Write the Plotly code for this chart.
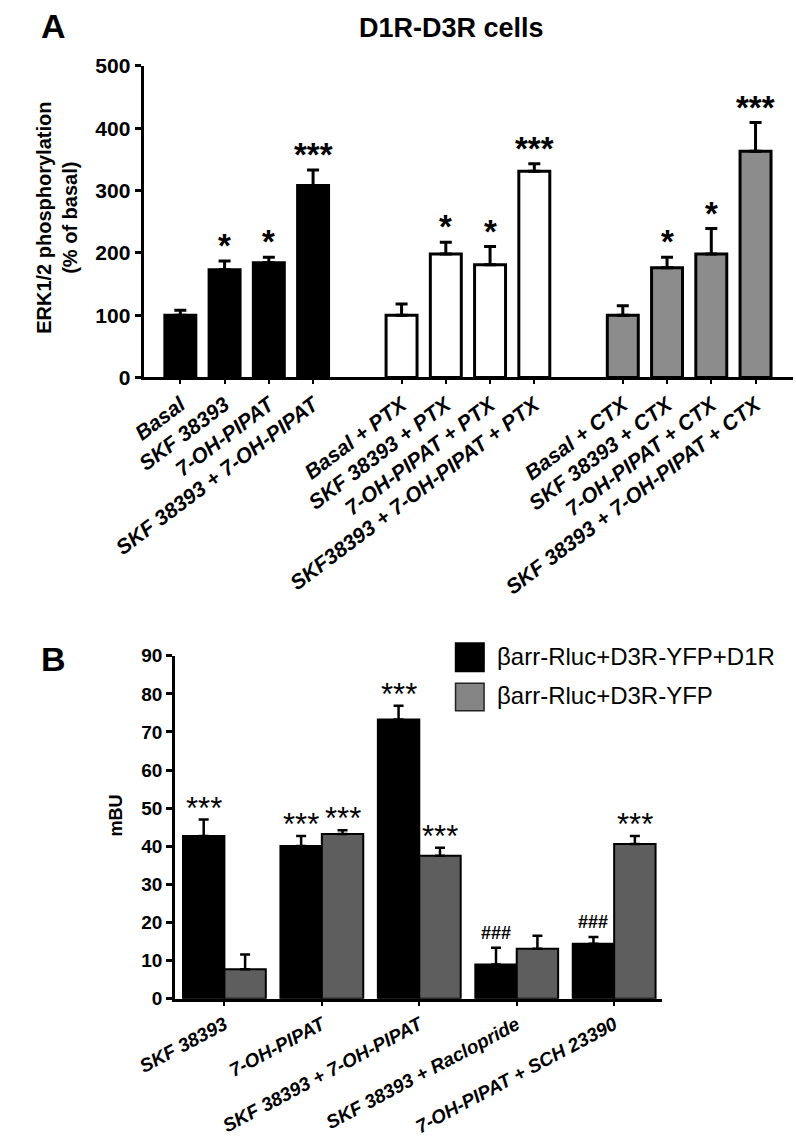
import plotly.graph_objects as go

FONT = "Arial, Liberation Sans, sans-serif"

# ---------------- Panel A data ----------------
title_A = "D1R-D3R cells"
labels_A = [
    "Basal", "SKF 38393", "7-OH-PIPAT", "SKF 38393 + 7-OH-PIPAT",
    "Basal + PTX", "SKF 38393 + PTX", "7-OH-PIPAT + PTX", "SKF38393 + 7-OH-PIPAT + PTX",
    "Basal + CTX", "SKF 38393 + CTX", "7-OH-PIPAT + CTX", "SKF 38393 + 7-OH-PIPAT + CTX",
]
group_of_A = [0, 0, 0, 0, 1, 1, 1, 1, 2, 2, 2, 2]
values_A = [100, 173, 184, 308, 100, 198, 181, 331, 100, 176, 198, 363]
errors_A = [8, 14, 9, 25, 18, 19, 29, 12, 15, 17, 41, 46]
signif_A = ["", "*", "*", "***", "", "*", "*", "***", "", "*", "*", "***"]
group_colors_A = ["#000000", "#ffffff", "#8c8c8c"]
yticks_A = [0, 100, 200, 300, 400, 500]

# ---------------- Panel B data ----------------
categories_B = ["SKF 38393", "7-OH-PIPAT", "SKF 38393 + 7-OH-PIPAT",
                "SKF 38393 + Raclopride", "7-OH-PIPAT + SCH 23390"]
name_D1R = "\u03b2arr-Rluc+D3R-YFP+D1R"
name_noD1R = "\u03b2arr-Rluc+D3R-YFP"
values_D1R = [42.7, 40.1, 73.3, 9.0, 14.4]
errors_D1R = [4.3, 2.6, 3.6, 4.4, 1.8]
values_noD1R = [7.7, 43.2, 37.5, 13.1, 40.6]
errors_noD1R = [3.9, 1.0, 2.1, 3.4, 2.1]
signif_D1R = ["***", "***", "***", "###", "###"]
signif_noD1R = ["", "***", "***", "", "***"]
yticks_B = list(range(0, 100, 10))

# x positions for panel A: one empty slot between groups
pos_A = []
slot = {}
for i, g in enumerate(group_of_A):
    slot[g] = slot.get(g, 0)
    pos_A.append(g * 5 + slot[g])
    slot[g] += 1
colors_A = [group_colors_A[g] for g in group_of_A]

fig = go.Figure()

fig.add_trace(go.Bar(
    x=pos_A, y=values_A, width=0.7,
    marker=dict(color=colors_A, line=dict(color="black", width=3)),
    error_y=dict(type="data", array=errors_A, arrayminus=[0] * len(errors_A),
                 symmetric=False, color="black", thickness=3, width=6),
    xaxis="x", yaxis="y", showlegend=False,
))

fig.add_trace(go.Bar(
    x=categories_B, y=values_D1R, name=name_D1R,
    marker=dict(color="#000000", line=dict(color="black", width=2)),
    error_y=dict(type="data", array=errors_D1R, arrayminus=[0] * 5,
                 symmetric=False, color="black", thickness=2.5, width=5),
    xaxis="x2", yaxis="y2", showlegend=False,
))
fig.add_trace(go.Bar(
    x=categories_B, y=values_noD1R, name=name_noD1R,
    marker=dict(color="#5e5e5e", line=dict(color="black", width=2)),
    error_y=dict(type="data", array=errors_noD1R, arrayminus=[0] * 5,
                 symmetric=False, color="black", thickness=2.5, width=5),
    xaxis="x2", yaxis="y2", showlegend=False,
))

annotations = []
# significance marks panel A
for p, v, e, s in zip(pos_A, values_A, errors_A, signif_A):
    if s:
        annotations.append(dict(x=p, y=v + e, xref="x", yref="y", text=s,
                                showarrow=False, yanchor="bottom", yshift=-5,
                                font=dict(family=FONT, size=33, color="black", weight="bold")))
# significance marks panel B
BARGAP = 0.15
half = (1 - BARGAP) / 4
for i, (v, e, s) in enumerate(zip(values_D1R, errors_D1R, signif_D1R)):
    if s:
        is_hash = s.startswith("#")
        annotations.append(dict(x=i - half, y=v + e, xref="x2", yref="y2", text=s,
                                showarrow=False, yanchor="bottom",
                                yshift=3 if is_hash else -8,
                                font=dict(family=FONT, size=18 if is_hash else 31, color="black",
                                          weight="bold" if is_hash else "normal")))
for i, (v, e, s) in enumerate(zip(values_noD1R, errors_noD1R, signif_noD1R)):
    if s:
        annotations.append(dict(x=i + half, y=v + e, xref="x2", yref="y2", text=s,
                                showarrow=False, yanchor="bottom", yshift=-8,
                                font=dict(family=FONT, size=31, color="black")))

H = 1141.0
W = 796.0
# titles / panel letters
annotations += [
    dict(text=title_A, x=434 / W, y=1 - 16 / H, xref="paper", yref="paper", showarrow=False,
         xanchor="center", yanchor="middle", font=dict(family=FONT, size=27, color="black", weight="bold")),
    dict(text="A", x=0, y=1 - 14 / H, xref="paper", yref="paper", showarrow=False,
         xanchor="left", yanchor="middle", font=dict(family=FONT, size=34, color="black", weight="bold")),
    dict(text="B", x=0, y=1 - 660 / H, xref="paper", yref="paper", showarrow=False,
         xanchor="left", yanchor="middle", font=dict(family=FONT, size=34, color="black", weight="bold")),
    dict(text="ERK1/2 phosphorylation<br>(% of basal)", x=19 / W, y=1 - 210 / H, xref="paper", yref="paper",
         showarrow=False, textangle=-90, xanchor="center", yanchor="middle",
         font=dict(family=FONT, size=20, color="black", weight="bold")),
    dict(text="mBU", x=81 / W, y=1 - 820 / H, xref="paper", yref="paper",
         showarrow=False, textangle=-90, xanchor="center", yanchor="middle",
         font=dict(family=FONT, size=18, color="black", weight="bold")),
    dict(text=name_D1R, x=480 / W, y=1 - 658 / H, xref="paper", yref="paper", showarrow=False,
         xanchor="left", yanchor="middle", font=dict(family=FONT, size=24, color="black")),
    dict(text=name_noD1R, x=480 / W, y=1 - 698 / H, xref="paper", yref="paper", showarrow=False,
         xanchor="left", yanchor="middle", font=dict(family=FONT, size=24, color="black")),
]

shapes = [
    dict(type="rect", xref="paper", yref="paper", x0=438 / W, x1=468 / W, y0=1 - 673 / H, y1=1 - 644 / H,
         fillcolor="#000000", line=dict(color="black", width=1.5)),
    dict(type="rect", xref="paper", yref="paper", x0=438 / W, x1=468 / W, y0=1 - 713 / H, y1=1 - 685 / H,
         fillcolor="#858585", line=dict(color="#222222", width=1.5)),
]

tick_bold = dict(family=FONT, size=21, color="black", weight="bold")
fig.update_layout(
    width=796, height=1141,
    margin=dict(l=0, r=0, t=0, b=0),
    paper_bgcolor="white", plot_bgcolor="white",
    barmode="group", bargap=BARGAP, bargroupgap=0,
    annotations=annotations, shapes=shapes,
    xaxis=dict(domain=[110 / W, 793 / W], anchor="y", range=[-0.83, 13.85],
               tickvals=pos_A, ticktext=labels_A, tickangle=-37,
               ticks="outside", ticklen=4, tickwidth=2, tickcolor="black",
               showline=True, linewidth=3, linecolor="black", showgrid=False, zeroline=False,
               tickfont=dict(family=FONT, size=21, color="black", weight="bold", style="italic")),
    yaxis=dict(domain=[1 - 373 / H, 1 - 55 / H], anchor="x", range=[0, 500],
               tickvals=yticks_A, ticks="outside", ticklen=6, tickwidth=3, tickcolor="black",
               showline=True, linewidth=3, linecolor="black", showgrid=False, zeroline=False,
               tickfont=tick_bold),
    xaxis2=dict(domain=[143 / W, 655 / W], anchor="y2", range=[-0.507, 4.49],
                type="category", tickangle=-28,
                ticks="outside", ticklen=5, tickwidth=2, tickcolor="black",
                showline=True, linewidth=2.5, linecolor="black", showgrid=False, zeroline=False,
                tickfont=dict(family=FONT, size=19, color="black", weight="bold", style="italic")),
    yaxis2=dict(domain=[1 - 1007 / H, 1 - 657 / H], anchor="x2", range=[0, 90],
                tickvals=yticks_B, ticks="outside", ticklen=6, tickwidth=2.5, tickcolor="black",
                showline=True, linewidth=2.5, linecolor="black", showgrid=False, zeroline=False,
                tickfont=dict(family=FONT, size=19, color="black", weight="bold")),
)

fig.write_html("out.html", config={"displayModeBar": False},
               post_script="document.body.style.margin='0px';document.body.style.padding='0px';")
